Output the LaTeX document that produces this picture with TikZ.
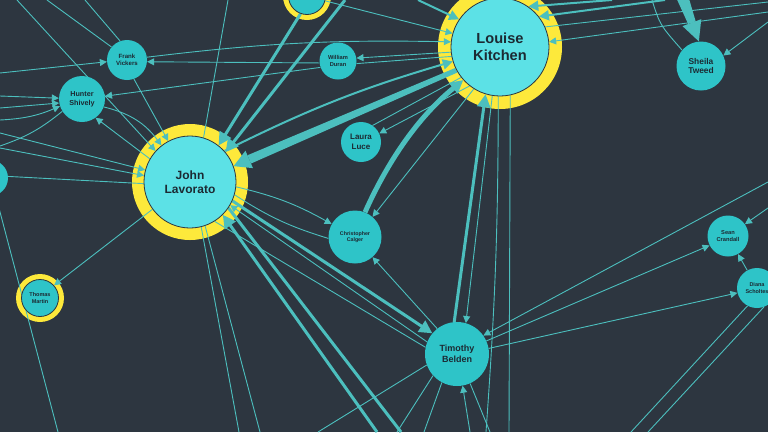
\documentclass[tikz,border=0pt]{standalone}
\usepackage{fontspec}
\setmainfont{Liberation Sans}
\usetikzlibrary{arrows.meta,calc}
\definecolor{bgc}{HTML}{2D3640}
\definecolor{nodec}{HTML}{2EC4C8}
\definecolor{bigc}{HTML}{5CE1E6}
\definecolor{ringc}{HTML}{FDE93B}
\definecolor{edgec}{HTML}{4CBFBE}
\definecolor{txtc}{HTML}{1C2A33}
\pgfdeclarelayer{ringl}
\pgfdeclarelayer{edgel}
\pgfsetlayers{ringl,edgel,main}
\newcommand{\pfs}[2]{\fontsize{#1}{#2}\selectfont}
\tikzset{
 person/.style={circle, fill=nodec, inner sep=0pt, text=txtc, align=center},
 star/.style={person, fill=bigc, draw=bgc, line width=0.8pt},
 ringed/.style={person, draw=bgc, line width=0.8pt},
 ln/.style={draw=edgec, line width=0.9pt},
 lnm/.style={draw=edgec, line width=2pt},
 lnk/.style={draw=edgec, line width=3pt},
 lnx/.style={draw=edgec, line width=5pt},
 ar/.style={-{Triangle[length=7pt,width=7pt]}},
 arm/.style={-{Triangle[length=10pt,width=10pt]}},
 ark/.style={-{Triangle[length=13pt,width=13pt]}},
 headw/.style={fill=edgec},
 ringfill/.style={fill=ringc},
}
\begin{document}
\begin{tikzpicture}[x=1pt,y=-1pt]
\useasboundingbox (0,0) rectangle (768,432);
% nodes
\node[star, minimum size=98pt, font=\bfseries\pfs{14.6}{16.5}] (LK) at (500,47) {Louise\\Kitchen};
\node[star, minimum size=92pt, font=\bfseries\pfs{12}{14}] (JL) at (190,182) {John\\Lavorato};
\node[person, minimum size=40pt, font=\bfseries\pfs{6.1}{7.2}] (FV) at (127,60) {Frank\\Vickers};
\node[person, minimum size=46pt, font=\bfseries\pfs{7.2}{8.6}] (HS) at (82,99) {Hunter\\Shively};
\node[person, minimum size=37pt, font=\bfseries\pfs{5.7}{6.8}] (WD) at (338,61) {William\\Duran};
\node[person, minimum size=40pt, font=\bfseries\pfs{8}{9.6}] (LL) at (361,142) {Laura\\Luce};
\node[person, minimum size=53pt, font=\bfseries\pfs{5.3}{6.4}] (CC) at (355,237) {Christopher\\Calger};
\node[person, minimum size=49pt, font=\bfseries\pfs{8.4}{9.8}] (ST) at (701,66) {Sheila\\Tweed};
\node[person, minimum size=41pt, font=\bfseries\pfs{5.7}{6.6}] (SC) at (728,236) {Sean\\Crandall};
\node[person, minimum size=40pt, font=\bfseries\pfs{5.5}{6.6}] (DS) at (757,288) {Diana\\Scholtes};
\node[ringed, minimum size=37pt, font=\bfseries\pfs{5.5}{6.6}] (TM) at (40,298) {Thomas\\Martin};
\node[person, minimum size=64pt, font=\bfseries\pfs{9}{10.6}] (TB) at (457,354) {Timothy\\Belden};
\node[person, minimum size=36pt] (LE) at (-10,178) {};
\node[ringed, minimum size=37pt] (PT) at (307,-4) {};

\begin{pgfonlayer}{ringl}
\fill[bgc] (0,0) rectangle (768,432);
\fill[ringfill] (LK) circle (62pt);
\fill[ringfill] (JL) circle (58pt);
\fill[ringfill] (TM) circle (24pt);
\fill[ringfill] (PT) circle (24pt);
\end{pgfonlayer}

\begin{pgfonlayer}{edgel}
% free ends
\coordinate (f1) at (418,0);
\coordinate (f2) at (612,0);
\coordinate (f3) at (665,0);
\coordinate (f4) at (682,-4);
\coordinate (f5) at (652,0);
\coordinate (t1) at (17,0);
\coordinate (t2) at (47,0);
\coordinate (t3) at (85,0);
\coordinate (t4) at (345,0);
\coordinate (t5) at (228,0);
\coordinate (r1) at (768,2);
\coordinate (r2) at (768,12);
\coordinate (r3) at (768,22);
\coordinate (r4) at (768,182);
\coordinate (r5) at (768,208);
\coordinate (l1) at (0,73);
\coordinate (l2) at (0,96);
\coordinate (l3) at (0,108);
\coordinate (l4) at (0,120);
\coordinate (l5) at (0,146);
\coordinate (l6) at (0,133);
\coordinate (l7) at (0,148);
\coordinate (b1) at (486,432);
\coordinate (b2) at (509,432);
\coordinate (b3) at (58,432);
\coordinate (b4) at (239,432);
\coordinate (b5) at (260,432);
\coordinate (b6) at (377,432);
\coordinate (b7) at (401,432);
\coordinate (b8) at (318,432);
\coordinate (b9) at (397,432);
\coordinate (b10) at (424,432);
\coordinate (b11) at (470,432);
\coordinate (b12) at (490,432);
\coordinate (b13) at (631,432);
\coordinate (b14) at (648,432);

% Louise Kitchen
\draw[ln,ar] (FV.8) to[bend left=4] (LK.174);
\draw[ln,ar] (WD.186) -- (FV.-5);
\draw[ln,ar] (WD.200) -- (HS.7);
\draw[ln,ar] (LK.186) -- (WD.9);
\draw[ln] (WD.-8) -- (LK.191);
\draw[ln,ar] (PT.-15) -- (LK.164);
\draw[lnm,arm] (f1) -- (LK.146);
\draw[lnx,ark] (CC.68) .. controls (383,172) and (412,122) .. (LK.222);
\draw[ln,ar] (LK.238) -- (CC.49);
\draw[ln,ar] (LK.232) -- (LL.25);
\draw[ln] (LL.55) -- (LK.218);
\draw[lnm,arm] (JL.42) to[bend left=5] (LK.197);
\draw[lnk,ark] (TB.95) -- (LK.253);
\draw[ln,ar] (LK.261) -- (TB.74);
\draw[ln] (LK.268) to[bend left=2] (b1);
\draw[ln] (LK.282) -- (b2);
\draw[lnm,arm] (f2) -- (LK.55);
\draw[lnm,arm] (f3) -- (LK.38);
\draw[ln] (LK.24) -- (r1);
\draw[ln,ar] (r2) -- (LK.6);
% Sheila: tapered wedge
\coordinate (sa) at (ST.95);
\coordinate (sb) at ($(sa)!20pt!(f4)$);
\fill[headw] ($(f4)!6pt!90:(sb)$) -- ($(sb)!4pt!-90:(f4)$) -- ($(sb)!4pt!90:(f4)$) -- ($(f4)!6pt!-90:(sb)$) -- cycle;
\fill[headw] ($(sb)!10pt!90:(sa)$) -- (sa) -- ($(sb)!10pt!-90:(sa)$) -- cycle;
\draw[ln] (f5) .. controls (660,25) .. (ST.140);
\draw[ln,ar] (r3) -- (ST.25);
% John Lavorato
\draw[ln,ar] (HS.-20) to[bend left=20] (JL.128);
\draw[ln,ar] (FV.-70) -- (JL.118);
\draw[ln,ar] (t1) -- (JL.138);
\draw[ln] (t2) -- (FV.140);
\draw[ln] (t3) -- (FV.110);
\draw[ln,ar] (JL.150) -- (HS.-54);
\draw[ln,ar] (l1) -- (FV.185);
\draw[ln,ar] (l2) -- (HS.178);
\draw[ln,ar] (l3) -- (HS.190);
\draw[ln,ar] (l4) to[bend right=10] (HS.198);
\draw[ln] (HS.212) to[bend left=10] (l5);
\draw[ln,ar] (l6) -- (JL.165);
\draw[ln,ar] (l7) -- (JL.172);
\draw[ln] (LE.5) -- (JL.182);
\draw[ln,ar] (JL.216) -- (TM.42);
\draw[ln] (LE.-72) -- (b3);
\draw[ln] (JL.-76) -- (b4);
\draw[ln] (JL.-71) -- (b5);
\draw[lnk,ark] (b6) -- (JL.-45);
\draw[lnk] (JL.-34) -- (b7);
\draw[lnk,ark] (JL.-24) -- (TB.140);
\draw[ln,ar] (TB.158) -- (JL.-30);
\draw[ln] (JL.-58) -- (TB.168);
\draw[ln,ar] (JL.-6) to[bend left=8] (CC.151);
\draw[ln] (JL.-16) to[bend right=8] (CC.183);
\draw[ln,ar] (TB.128) -- (CC.-49);
\draw[lnk,ark] (PT.-110) -- (JL.52);
\draw[lnk,ark] (t4) -- (JL.40);
\draw[ln] (t5) -- (JL.73);
% Louise -> John: tapered wedge
\coordinate (ja) at (JL.20);
\coordinate (js) at (LK.208);
\coordinate (jb) at ($(ja)!17pt!(js)$);
\fill[headw] ($(js)!2.5pt!90:(jb)$) -- ($(jb)!4.5pt!-90:(js)$) -- ($(jb)!4.5pt!90:(js)$) -- ($(js)!2.5pt!-90:(jb)$) -- cycle;
\fill[headw] ($(jb)!9.5pt!90:(ja)$) -- (ja) -- ($(jb)!9.5pt!-90:(ja)$) -- cycle;
% Timothy Belden
\draw[ln,ar] (r4) -- (TB.35);
\draw[ln,ar] (TB.24) -- (SC.207);
\draw[ln,ar] (TB.10) -- (DS.194);
\draw[ln] (TB.200) -- (b8);
\draw[ln] (TB.222) -- (b9);
\draw[ln] (TB.242) -- (b10);
\draw[ln,ar] (b11) -- (TB.-80);
\draw[ln] (TB.-66) -- (b12);
\draw[ln,ar] (r5) -- (SC.35);
\draw[ln,ar] (DS.119) -- (SC.-61);
\draw[ln] (DS.-118) -- (b13);
\draw[ln] (DS.-70) -- (b14);
\end{pgfonlayer}
\end{tikzpicture}
\end{document}
